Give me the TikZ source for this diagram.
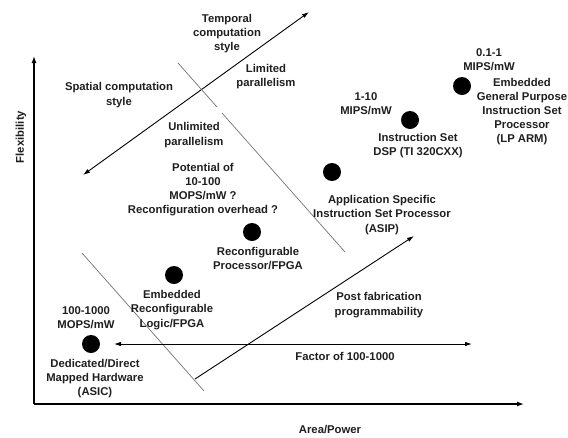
\documentclass[tikz,border=0pt]{standalone}
\usepackage{fontspec}
\setmainfont{Liberation Sans}
\usetikzlibrary{arrows.meta}
\begin{document}
\begin{tikzpicture}[x=1pt,y=-1pt,
  lbl/.style={inner sep=0pt,align=center,text=black!88,font=\fontsize{11.3}{14.2}\selectfont\bfseries},
  dot/.style={circle,fill=black,minimum size=18pt,inner sep=0pt},
  axisline/.style={line width=1.3pt,-{Latex[length=7pt,width=5pt]}},
  arr/.style={line width=0.9pt,-{Latex[length=7pt,width=4.5pt]}},
  darr/.style={line width=0.9pt,{Latex[length=7pt,width=4.5pt]}-{Latex[length=7pt,width=4.5pt]}},
  sep/.style={line width=0.7pt,draw=black!55}]
\useasboundingbox (0,0) rectangle (568,437);
% axes
\coordinate (orig) at (34,404);
\coordinate (ytop) at (34,56);
\coordinate (xend) at (524,404);
\draw[axisline] (orig) -- (ytop);
\draw[axisline] (orig) -- (xend);
\node[lbl,rotate=90] (flex) at (21,137) {Flexibility};
\node[lbl] (area) at (330,430) {Area/Power};
% temporal / spatial arrow
\coordinate (ts1) at (83,175);
\coordinate (ts2) at (309,12);
\draw[darr] (ts1) -- (ts2);
% separators
\coordinate (s1a) at (178,63);
\coordinate (s1b) at (217,107);
\coordinate (s2a) at (222,113);
\coordinate (s2b) at (345,252);
\coordinate (s3a) at (82,253);
\coordinate (s3b) at (204,391);
\draw[sep] (s1a) -- (s1b);
\draw[sep] (s2a) -- (s2b);
\draw[sep] (s3a) -- (s3b);
% post fabrication arrow
\coordinate (pf1) at (195,379);
\coordinate (pf2) at (414,236);
\draw[arr] (pf1) -- (pf2);
% factor arrow
\coordinate (f1) at (114,344);
\coordinate (f2) at (472,344);
\draw[darr] (f1) -- (f2);
% dots
\node[dot] (asic) at (91,344) {};
\node[dot] (erl) at (174,275) {};
\node[dot] (rpf) at (252,232) {};
\node[dot] (asip) at (332,172) {};
\node[dot] (dsp) at (410,120) {};
\node[dot] (gpp) at (462,86) {};
% labels
\node[lbl] (temporal) at (227,33.5) {Temporal\\computation\\style};
\node[lbl] (spatial) at (119,95) {Spatial computation\\style};
\node[lbl] (limited) at (266,76.5) {Limited\\parallelism};
\node[lbl] (unlimited) at (194,135) {Unlimited\\parallelism};
\node[lbl] (potential) at (203,189.5) {Potential of\\10-100\\MOPS/mW ?\\Reconfiguration overhead ?};
\node[lbl] (rpftxt) at (258,258.5) {Reconfigurable\\Processor/FPGA};
\node[lbl] (erltxt) at (172,310) {Embedded\\Reconfigurable\\Logic/FPGA};
\node[lbl] (asicperf) at (86,318) {100-1000\\MOPS/mW};
\node[lbl] (asictxt) at (95,378.5) {Dedicated/Direct\\Mapped Hardware\\(ASIC)};
\node[lbl] (asiptxt) at (382,215) {Application Specific\\Instruction Set Processor\\(ASIP)};
\node[lbl] (dspperf) at (366,103.5) {1-10\\MIPS/mW};
\node[lbl] (dsptxt) at (418,145.5) {Instruction Set\\DSP (TI 320CXX)};
\node[lbl] (gppperf) at (489,59.5) {0.1-1\\MIPS/mW};
\node[lbl] (gpptxt) at (522,111.5) {Embedded\\General Purpose\\Instruction Set\\Processor\\(LP ARM)};
\node[lbl] (pftxt) at (379,305) {Post fabrication\\programmability};
\node[lbl] (factor) at (345,356) {Factor of 100-1000};
\end{tikzpicture}
\end{document}
